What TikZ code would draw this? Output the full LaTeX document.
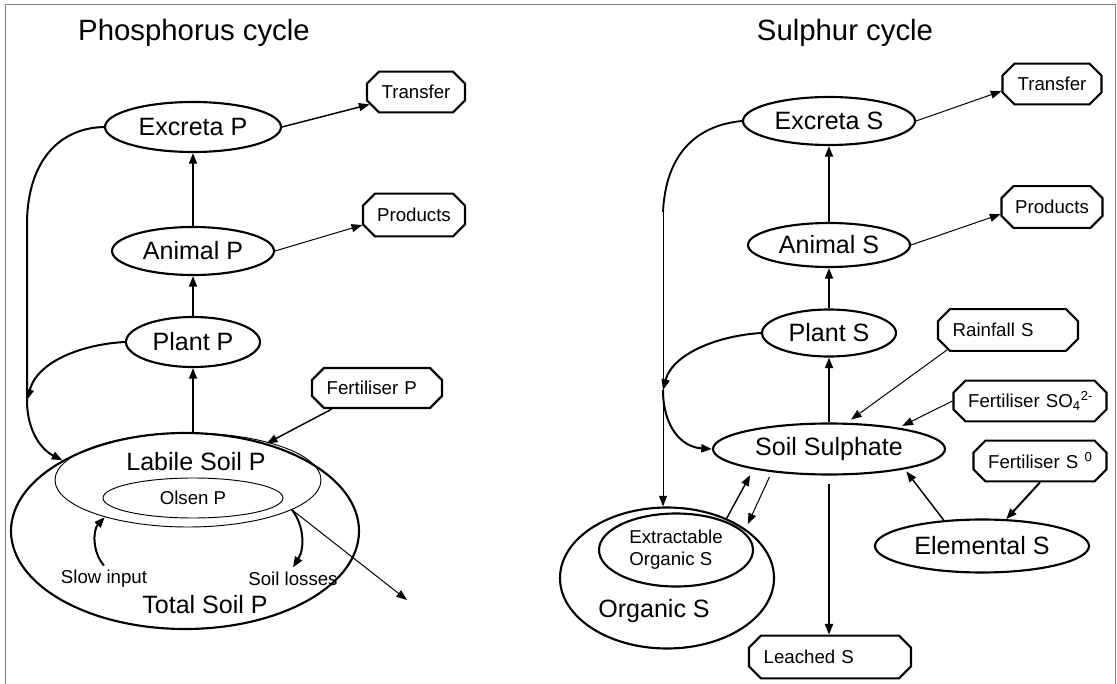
\documentclass[tikz,border=0pt]{standalone}
\usepackage{fontspec}
\setmainfont{Liberation Sans}
\usetikzlibrary{shapes.geometric,shapes.misc,arrows.meta,positioning}
\newcommand{\poolfont}{\fontsize{18.8}{22}\selectfont}
\newcommand{\boxfont}{\fontsize{14}{16.5}\selectfont}
\newcommand{\titlefont}{\fontsize{22}{26}\selectfont}
\begin{document}
\begin{tikzpicture}[x=0.75pt,y=-0.75pt,>={Triangle[length=8pt,width=6pt]},
    pool/.style={ellipse,draw,line width=1.6pt,inner sep=0pt,font=\poolfont},
    subpool/.style={ellipse,draw,line width=0.7pt,inner sep=0pt},
    flowbox/.style={chamfered rectangle,chamfered rectangle xsep=4pt,chamfered rectangle ysep=5pt,draw,line width=1.6pt,inner sep=0pt,font=\boxfont},
    padbox/.style={flowbox,align=left,inner xsep=7pt},
    heavy/.style={->,line width=1.5pt},
    medium/.style={->,line width=1.1pt},
    light/.style={->,line width=0.75pt},
    node distance=68pt,on grid]
  \useasboundingbox (0,0) rectangle (1117,684);
  \draw[gray,line width=0.75pt] (5,684) -- (5,5) -- (1115,5) -- (1115,684);

  % phosphorus cycle
  \node[font=\titlefont] (titleP) at (194,33) {Phosphorus cycle};
  \node[pool,minimum width=100.5pt,minimum height=37.5pt] (plantP) at (193,342) {Plant P};
  \node[pool,minimum width=121.5pt,minimum height=36pt,above=68.25pt of plantP] (animalP) {Animal P};
  \node[pool,minimum width=132pt,minimum height=37.5pt,above=93pt of animalP] (excretaP) {Excreta P};
  \node[pool,minimum width=261pt,minimum height=147pt] (totalP) at (185,531) {};
  \node[subpool,minimum width=199.5pt,minimum height=70.5pt] (labileP) at (188,480) {};
  \node[subpool,minimum width=135pt,minimum height=30pt,font=\boxfont] (olsenP) at (193,498) {Olsen P};
  \node[font=\poolfont] (labileLbl) at (196,462) {Labile Soil P};
  \node[font=\poolfont] (totalLbl) at (205,605) {Total Soil P};
  \node[font=\boxfont] (slowP) at (104,579) {Slow input};
  \node[font=\boxfont] (lossP) at (293,579) {Soil losses};
  \node[flowbox,minimum width=73.5pt,minimum height=30.5pt] (transferP) at (416,92) {Transfer};
  \node[flowbox,minimum width=76.5pt,minimum height=32pt] (productsP) at (414,215) {Products};
  \node[padbox,text width=75.5pt,minimum height=30pt] (fertP) at (377,388) {Fertiliser~P};
  \coordinate (bendP) at (27,222);
  \coordinate (joinP) at (27,400);
  \coordinate (lossOut) at (407,600);

  \path (plantP.south |- totalP.north) edge[medium] (plantP.south)
        (plantP) edge[heavy] (animalP)
        (animalP) edge[heavy] (excretaP)
        (excretaP.east) edge[medium] (transferP.195)
        (animalP.east) edge[light] (productsP.191)
        (fertP.205) edge[medium] (totalP.47);
  \draw[heavy] (excretaP.west) .. controls (60,128) and (28,160) .. (bendP) -- (joinP)
        .. controls (27,432) and (42,450) .. (totalP.150);
  \draw[heavy] (plantP.west) .. controls (85,344) and (38,360) .. (joinP);
  \draw[heavy] (slowP.north) .. controls (92,552) and (93,530) .. (labileP.204);
  \draw[heavy] (labileP.-16) .. controls (304,525) and (305,548) .. (lossP.north);
  \draw[light] (labileP.-16) -- (lossOut);

  % sulphur cycle
  \node[font=\titlefont] (titleS) at (845,33) {Sulphur cycle};
  \node[pool,minimum width=100.5pt,minimum height=35.25pt] (plantS) at (829,333) {Plant S};
  \node[pool,minimum width=121.5pt,minimum height=33pt,above=66pt of plantS] (animalS) {Animal S};
  \node[pool,minimum width=129pt,minimum height=36pt,above=93pt of animalS] (excretaS) {Excreta S};
  \node[pool,minimum width=174pt,minimum height=38.25pt] (soilSul) at (829,449) {Soil Sulphate};
  \node[pool,minimum width=160.5pt,minimum height=39.75pt] (elemS) at (982,546) {Elemental S};
  \node[pool,minimum width=160.5pt,minimum height=105.75pt] (organicS) at (667,578) {};
  \node[pool,minimum width=115.5pt,minimum height=54.75pt,font=\boxfont,align=left] (extractS) at (676,550) {Extractable\\Organic S};
  \node[font=\poolfont] (organicLbl) at (654,611) {Organic S};
  \node[flowbox,minimum width=74.25pt,minimum height=30.5pt] (transferS) at (1052,84) {Transfer};
  \node[flowbox,minimum width=75.75pt,minimum height=31.25pt] (productsS) at (1052,207) {Products};
  \node[padbox,text width=83pt,minimum height=31.25pt] (rainS) at (1008,330) {Rainfall~S};
  \node[padbox,text width=92.75pt,minimum height=30.5pt] (fertSO) at (1030,401) {Fertiliser~SO\textsubscript{4}\textsuperscript{2-}};
  \node[padbox,text width=77.75pt,minimum height=30.5pt] (fertSE) at (1040,461) {Fertiliser~S~\textsuperscript{0}};
  \node[padbox,text width=99.5pt,minimum height=32pt] (leachS) at (830,657) {Leached~S};
  \coordinate (bendS) at (663,212);
  \coordinate (joinS) at (663,390);

  \draw[line width=1.4pt] (excretaS.west) .. controls (700,125) and (666,150) .. (bendS);
  \draw[light] (bendS) -- (bendS |- organicS.north);
  \draw[heavy] (plantS.west) .. controls (715,336) and (672,355) .. (joinS);
  \draw[heavy] (joinS) .. controls (663,425) and (680,447) .. (soilSul.west);
  \path (soilSul) edge[heavy] (plantS)
        (plantS) edge[heavy] (animalS)
        (animalS) edge[heavy] (excretaS)
        (excretaS.east) edge[light] (transferS.188)
        (animalS.east) edge[light] (productsS.188)
        (rainS.198) edge[light,shorten >=4pt] (soilSul.56)
        (fertSO.west) edge[light,shorten >=3pt] (soilSul.17)
        (fertSE.south) edge[heavy] (elemS.48)
        (elemS.146) edge[medium,shorten >=2pt] (soilSul.-15)
        (organicS.45) edge[medium,shorten >=5pt] (soilSul.195)
        (soilSul.202) edge[light,shorten <=4pt,shorten >=4pt] (organicS.32)
        (soilSul.south) edge[heavy,shorten <=6pt] (soilSul.south |- leachS.north);
\end{tikzpicture}
\end{document}
